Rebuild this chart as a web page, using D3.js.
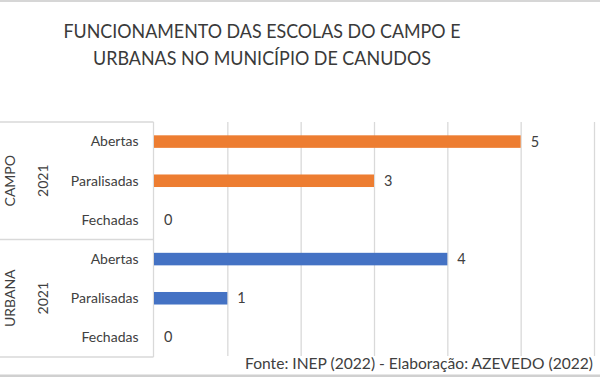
<!DOCTYPE html>
<html>
<head>
<meta charset="utf-8">
<script src="https://cdn.jsdelivr.net/npm/d3@7"></script>
<style>
    body { margin: 0; background: #fff; }
    svg { display: block; font-family: Lato, "Open Sans", sans-serif; }
</style>
</head>
<body>
<svg id="chart" width="600" height="377"></svg>
<script>
// Chart data
const titleLines = ['FUNCIONAMENTO DAS ESCOLAS DO CAMPO E', 'URBANAS NO MUNICÍPIO DE CANUDOS'];
const groups = ['CAMPO', 'URBANA'];
const years = ['2021', '2021'];
const categories = ['Abertas', 'Paralisadas', 'Fechadas'];
const campoValues = [5, 3, 0];
const urbanaValues = [4, 1, 0];
const xTicks = [0, 1, 2, 3, 4, 5, 6];
const source = 'Fonte: INEP (2022) - Elaboração: AZEVEDO (2022)';

const colors = { CAMPO: '#ED7D31', URBANA: '#4472C4' };
const gridColor = '#d9d9d9';
const textColor = '#404040';

const svg = d3.select('#chart');
const W = 600, H = 377;
const plot = { left: 154, right: 594, top: 122, bottom: 357 };

// frame lines top / bottom
svg.append('rect').attr('x', 0).attr('y', 0).attr('width', W).attr('height', 2).attr('fill', '#d6d6d6');
svg.append('rect').attr('x', 0).attr('y', 374.5).attr('width', W).attr('height', 2.5).attr('fill', '#d0d0d0');

// title
const title = svg.append('g').attr('fill', '#3a3a3a').style('font-weight', 400).style('font-size', '20px');
title.selectAll('text')
    .data(titleLines)
    .join('text')
    .attr('x', 262)
    .attr('y', (d, i) => 37.5 + i * 27.5)
    .attr('text-anchor', 'middle')
    .attr('textLength', (d, i) => i === 0 ? 397 : 338)
    .attr('lengthAdjust', 'spacingAndGlyphs')
    .text(d => d);

// rows: one per group + category
const rows = [];
groups.forEach((g, gi) => {
    const vals = g === 'CAMPO' ? campoValues : urbanaValues;
    categories.forEach((c, ci) => rows.push({ key: g + '|' + c, group: g, cat: c, value: vals[ci] }));
});

const x = d3.scaleLinear().domain([0, 6]).range([plot.left, plot.right]);
const y = d3.scaleBand()
    .domain(rows.map(r => r.key))
    .range([plot.top, plot.bottom])
    .paddingInner(0.68)
    .paddingOuter(0.34);
const rowStep = y.step();

// gridlines
svg.append('g')
    .selectAll('line')
    .data(xTicks.slice(1))
    .join('line')
    .attr('x1', d => x(d) + 0.5).attr('x2', d => x(d) + 0.5)
    .attr('y1', plot.top).attr('y2', plot.bottom - 1)
    .attr('stroke', gridColor).attr('stroke-width', 1.3);

// category axis lines
const axisG = svg.append('g').attr('stroke', gridColor).attr('stroke-width', 1.3);
axisG.append('line')
    .attr('x1', plot.left - 0.5).attr('x2', plot.left - 0.5)
    .attr('y1', plot.top).attr('y2', plot.bottom);
const groupEdges = [plot.top, y(groups[1] + '|' + categories[0]) - (rowStep - y.bandwidth()) / 2, plot.bottom];
axisG.selectAll('.sep')
    .data(groupEdges)
    .join('line')
    .attr('x1', 0).attr('x2', plot.left - 0.5)
    .attr('y1', d => d).attr('y2', d => d);

// bars
svg.append('g')
    .selectAll('rect')
    .data(rows)
    .join('rect')
    .attr('x', x(0))
    .attr('y', d => y(d.key))
    .attr('width', d => x(d.value) - x(0))
    .attr('height', y.bandwidth())
    .attr('fill', d => colors[d.group]);

// value labels
svg.append('g')
    .selectAll('text')
    .data(rows)
    .join('text')
    .attr('x', d => x(d.value) + 10)
    .attr('y', d => y(d.key) + y.bandwidth() / 2)
    .attr('dy', '0.35em')
    .attr('fill', textColor)
    .style('font-size', '14.5px')
    .text(d => d.value);

// category labels
svg.append('g')
    .selectAll('text')
    .data(rows)
    .join('text')
    .attr('x', 138.5)
    .attr('y', d => y(d.key) + y.bandwidth() / 2)
    .attr('dy', '0.35em')
    .attr('text-anchor', 'end')
    .attr('fill', textColor)
    .style('font-size', '14px')
    .text(d => d.cat);

// group + year labels (rotated)
const groupCenters = groups.map((g, i) => (groupEdges[i] + groupEdges[i + 1]) / 2);
const glabels = svg.append('g').attr('fill', textColor).style('font-size', '14px');
glabels.selectAll('.yr')
    .data(years)
    .join('text')
    .attr('transform', (d, i) => `translate(43.5,${groupCenters[i]}) rotate(-90)`)
    .attr('text-anchor', 'middle')
    .attr('dy', '0.35em')
    .text(d => d);
glabels.selectAll('.grp')
    .data(groups)
    .join('text')
    .attr('transform', (d, i) => `translate(10,${groupCenters[i]}) rotate(-90)`)
    .attr('text-anchor', 'middle')
    .attr('dy', '0.35em')
    .text(d => d);

// source note
svg.append('text')
    .attr('x', 593)
    .attr('y', 368.5)
    .attr('text-anchor', 'end')
    .attr('fill', textColor)
    .style('font-size', '15px')
    .attr('textLength', 348)
    .attr('lengthAdjust', 'spacingAndGlyphs')
    .text(source);
</script>
</body>
</html>
